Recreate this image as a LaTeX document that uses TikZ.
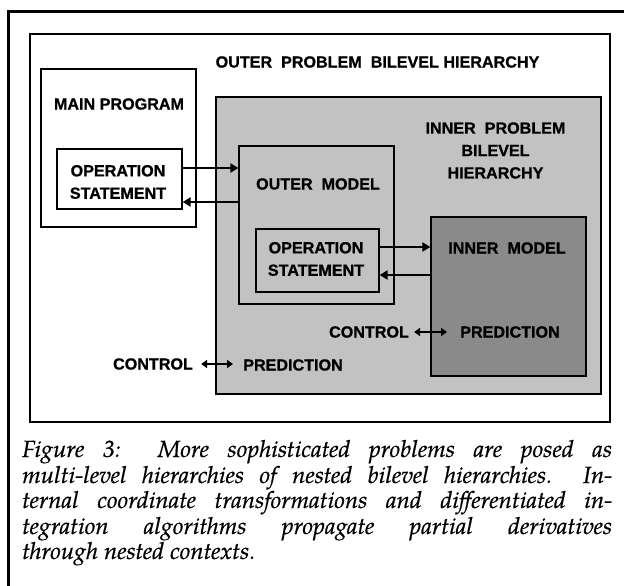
\documentclass[tikz,border=0pt]{standalone}
\usepackage{fontspec}
\setmainfont{Liberation Sans}
\newfontfamily\lblfont{Liberation Sans}[BoldFeatures={FakeBold=0.9}]
\newfontfamily\capfont{texgyrepagella-italic.otf}[FakeStretch=1.02, FakeBold=0.6]
\usetikzlibrary{arrows.meta}
\begin{document}
\begin{tikzpicture}[x=1bp,y=-1bp,
  box/.style={draw, line width=1.2bp, inner sep=0pt},
  lbl/.style={font=\lblfont\fontsize{16.2}{22.5}\selectfont\bfseries, inner sep=0pt, align=center},
  arr/.style={line width=2.6bp, -{Triangle[length=8bp,width=9bp]}},
  darr/.style={line width=2.4bp, {Triangle[length=6bp,width=8bp]}-{Triangle[length=6bp,width=8bp]}},
  capline/.style={anchor=base west, inner sep=0pt, font=\capfont\fontsize{23.5}{25}\selectfont}]
\useasboundingbox (0,0) rectangle (624,586);
\fill[white] (0,0) rectangle (624,586);
% outer page frame (cut by the page edges)
\draw[line width=3bp] (8,12) rectangle (650,620);
% figure box
\node[box, line width=1.5bp, minimum width=580bp, minimum height=388bp] (fig) at (320,228) {};
% main program
\node[box, minimum width=155bp, minimum height=158bp] (main) at (118.5,148) {};
\node[box, minimum width=125bp, minimum height=60bp] (mainop) at (119.5,179) {};
% outer problem
\node[box, fill=black!24, minimum width=385bp, minimum height=297bp] (outer) at (408.5,245.5) {};
\node[box, minimum width=155bp, minimum height=158bp] (outmodel) at (316.5,225) {};
\node[box, minimum width=123bp, minimum height=63bp] (innerop) at (317.5,260.5) {};
\node[box, fill=black!46, minimum width=155bp, minimum height=159bp] (inmodel) at (508.5,296.5) {};
% labels
\node[lbl] (title) at (377.5,62) {OUTER\ \ PROBLEM\ \ BILEVEL HIERARCHY};
\node[lbl] (mainlbl) at (119,104) {MAIN PROGRAM};
\node[lbl] (mainoplbl) at (118,182) {OPERATION\\STATEMENT};
\node[lbl] (innerprob) at (495.5,150.5) {INNER\ \ PROBLEM\\BILEVEL\\HIERARCHY};
\node[lbl] (outmodellbl) at (318,184) {OUTER\ \ MODEL};
\node[lbl] (inneroplbl) at (316,259) {OPERATION\\STATEMENT};
\node[lbl] (inmodellbl) at (507,248) {INNER\ \ MODEL};
\node[lbl] (pred2) at (510,332) {PREDICTION};
\node[lbl] (ctrl2) at (369,332) {CONTROL};
\node[lbl] (ctrl1) at (153,364) {CONTROL};
\node[lbl] (pred1) at (293,365) {PREDICTION};
% connectors
\draw[arr] (mainop.east |- 0,168) -- (outmodel.west |- 0,168);
\draw[arr] (outmodel.west |- 0,202) -- (mainop.east |- 0,202);
\draw[arr] (innerop.east |- 0,247) -- (inmodel.west |- 0,247);
\draw[arr] (inmodel.west |- 0,275) -- (innerop.east |- 0,275);
\draw[darr] ([xshift=8bp]ctrl1.east) -- ([xshift=-10bp]pred1.west |- ctrl1.east);
\draw[darr] ([xshift=5bp]ctrl2.east) -- ([xshift=-13bp]pred2.west |- ctrl2.east);
% caption
\node[capline] (c1) at (22,457) {\makebox[590bp][s]{Figure 3:\ \ More sophisticated problems are posed as}};
\node[capline] (c2) at (22,483) {\makebox[590bp][s]{multi-level hierarchies of nested bilevel hierarchies.\ \ In-}};
\node[capline] (c3) at (22,508) {\makebox[590bp][s]{ternal coordinate transformations and differentiated in-}};
\node[capline] (c4) at (22,534) {\makebox[590bp][s]{tegration algorithms propagate partial derivatives}};
\node[capline] (c5) at (22,559) {through nested contexts.};
\end{tikzpicture}
\end{document}
